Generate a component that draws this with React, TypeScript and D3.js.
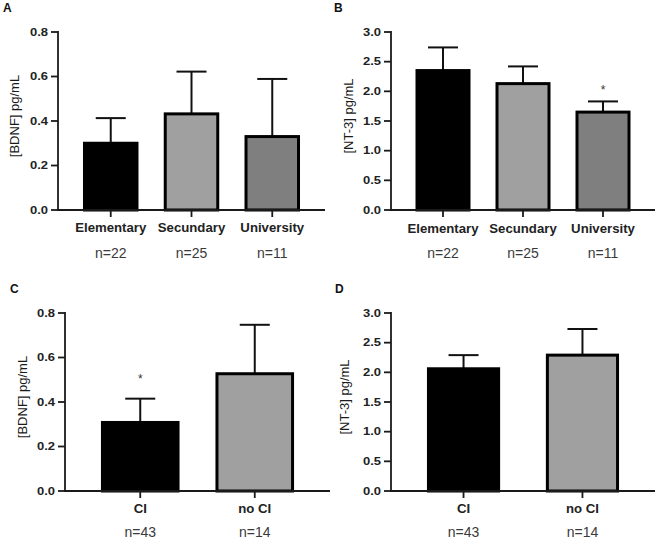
import React from "react";
import * as d3 from "d3";

// ---------- DATA ----------
const educationCategories = ["Elementary", "Secundary", "University"];
const educationN = ["n=22", "n=25", "n=11"];
const bdnfEduMean = [0.3, 0.432, 0.33];
const bdnfEduErr = [0.413, 0.622, 0.589];
const nt3EduMean = [2.35, 2.13, 1.65];
const nt3EduErr = [2.74, 2.42, 1.83];
const nt3EduSig = [false, false, true];

const ciCategories = ["CI", "no CI"];
const ciN = ["n=43", "n=14"];
const bdnfCiMean = [0.308, 0.527];
const bdnfCiErr = [0.415, 0.747];
const bdnfCiSig = [true, false];
const nt3CiMean = [2.06, 2.29];
const nt3CiErr = [2.29, 2.73];
const nt3CiSig = [false, false];

const bdnfTicks = [0, 0.2, 0.4, 0.6, 0.8];
const nt3Ticks = [0, 0.5, 1.0, 1.5, 2.0, 2.5, 3.0];

const eduFills = ["#000000", "#a0a0a0", "#7f7f7f"];
const ciFills = ["#000000", "#a0a0a0"];

type PanelProps = {
  letter: string;
  lx: number;
  ly: number;
  title: string;
  titleX: number;
  cats: string[];
  ns: string[];
  mean: number[];
  err: number[];
  sig: boolean[];
  sigGap: number;
  fills: string[];
  yMax: number;
  ticks: number[];
  x0: number;
  x1: number;
  yTop: number;
  yBot: number;
  pad: number;
  barFrac: number;
  catY: number;
  nY: number;
};

const FONT = "'Liberation Sans', Arial, Helvetica, sans-serif";

function Panel(p: PanelProps) {
  const x = d3.scalePoint<string>().domain(p.cats).range([p.x0, p.x1]).padding(p.pad);
  const y = d3.scaleLinear().domain([0, p.yMax]).range([p.yBot, p.yTop]);
  const bw = x.step() * p.barFrac;
  const fmt = d3.format(".1f");
  const axisColor = "#1a1a1a";
  const capW = 30;
  return (
    <g>
      <text x={p.lx} y={p.ly} fontFamily={FONT} fontSize={12} fontWeight="bold" fill="#111">
        {p.letter}
      </text>
      {/* y title */}
      <text
        transform={`translate(${p.titleX},${(p.yTop + p.yBot) / 2 - 5}) rotate(-90)`}
        textAnchor="middle"
        fontFamily={FONT}
        fontSize={13}
        fill="#1a1a1a"
      >
        {p.title}
      </text>
      {/* bars */}
      {p.cats.map((c, i) => {
        const cx = x(c) as number;
        return (
          <g key={c}>
            <line x1={cx} x2={cx} y1={y(p.mean[i])} y2={y(p.err[i])} stroke="#111" strokeWidth={2} />
            <line x1={cx - capW / 2} x2={cx + capW / 2} y1={y(p.err[i])} y2={y(p.err[i])} stroke="#111" strokeWidth={2} />
            <rect
              x={cx - bw / 2}
              y={y(p.mean[i])}
              width={bw}
              height={y(0) - y(p.mean[i])}
              fill={p.fills[i]}
              stroke="#000"
              strokeWidth={3}
            />
            {p.sig[i] && (
              <text x={cx} y={y(p.err[i]) - p.sigGap} textAnchor="middle" fontFamily={FONT} fontSize={12} fill="#333">
                *
              </text>
            )}
            <line x1={cx} x2={cx} y1={y(0)} y2={y(0) + 7} stroke={axisColor} strokeWidth={1.8} />
            <text
              transform={`translate(${cx},${p.catY}) scale(1.1,1)`}
              textAnchor="middle"
              fontFamily={FONT}
              fontSize={12}
              fontWeight="bold"
              fill="#222"
            >
              {c}
            </text>
            <text x={cx} y={p.nY} textAnchor="middle" fontFamily={FONT} fontSize={14} fill="#3a3a3a">
              {p.ns[i]}
            </text>
          </g>
        );
      })}
      {/* axes */}
      <line x1={p.x0} x2={p.x0} y1={y(p.yMax) - 1} y2={y(0)} stroke={axisColor} strokeWidth={1.8} />
      <line x1={p.x0 - 1} x2={p.x1} y1={y(0)} y2={y(0)} stroke={axisColor} strokeWidth={1.8} />
      {p.ticks.map((t) => (
        <g key={t}>
          <line x1={p.x0 - 7} x2={p.x0} y1={y(t)} y2={y(t)} stroke={axisColor} strokeWidth={1.8} />
          <text
            transform={`translate(${p.x0 - 10},${y(t) + 3.6}) scale(1.3,1)`}
            textAnchor="end"
            fontFamily={FONT}
            fontSize={10}
            fontWeight="bold"
            fill="#222"
          >
            {fmt(t)}
          </text>
        </g>
      ))}
    </g>
  );
}

export default function App() {
  return (
    <svg
      width={660}
      height={540}
      viewBox="0 0 660 540"
      style={{ position: "absolute", left: 0, top: 0, background: "#fff" }}
    >
      <rect width={660} height={540} fill="#fff" />
      <Panel
        letter="A" lx={3} ly={12}
        title="[BDNF] pg/mL" titleX={19}
        cats={educationCategories} ns={educationN}
        mean={bdnfEduMean} err={bdnfEduErr} sig={[false, false, false]} sigGap={7}
        fills={eduFills} yMax={0.8} ticks={bdnfTicks}
        x0={58} x1={325} yTop={32} yBot={210} pad={0.653} barFrac={0.65}
        catY={232} nY={258}
      />
      <Panel
        letter="B" lx={334} ly={12}
        title="[NT-3] pg/mL" titleX={353}
        cats={educationCategories} ns={educationN}
        mean={nt3EduMean} err={nt3EduErr} sig={nt3EduSig} sigGap={7}
        fills={eduFills} yMax={3} ticks={nt3Ticks}
        x0={391} x1={655} yTop={32} yBot={210} pad={0.65} barFrac={0.65}
        catY={233} nY={258}
      />
      <Panel
        letter="C" lx={10} ly={293}
        title="[BDNF] pg/mL" titleX={27}
        cats={ciCategories} ns={ciN}
        mean={bdnfCiMean} err={bdnfCiErr} sig={bdnfCiSig} sigGap={16}
        fills={ciFills} yMax={0.8} ticks={bdnfTicks}
        x0={65} x1={330} yTop={313} yBot={491} pad={0.657} barFrac={0.66}
        catY={513} nY={537}
      />
      <Panel
        letter="D" lx={335} ly={293}
        title="[NT-3] pg/mL" titleX={349}
        cats={ciCategories} ns={ciN}
        mean={nt3CiMean} err={nt3CiErr} sig={nt3CiSig} sigGap={7}
        fills={ciFills} yMax={3} ticks={nt3Ticks}
        x0={391} x1={655} yTop={313} yBot={491} pad={0.61} barFrac={0.59}
        catY={513} nY={537}
      />
    </svg>
  );
}
